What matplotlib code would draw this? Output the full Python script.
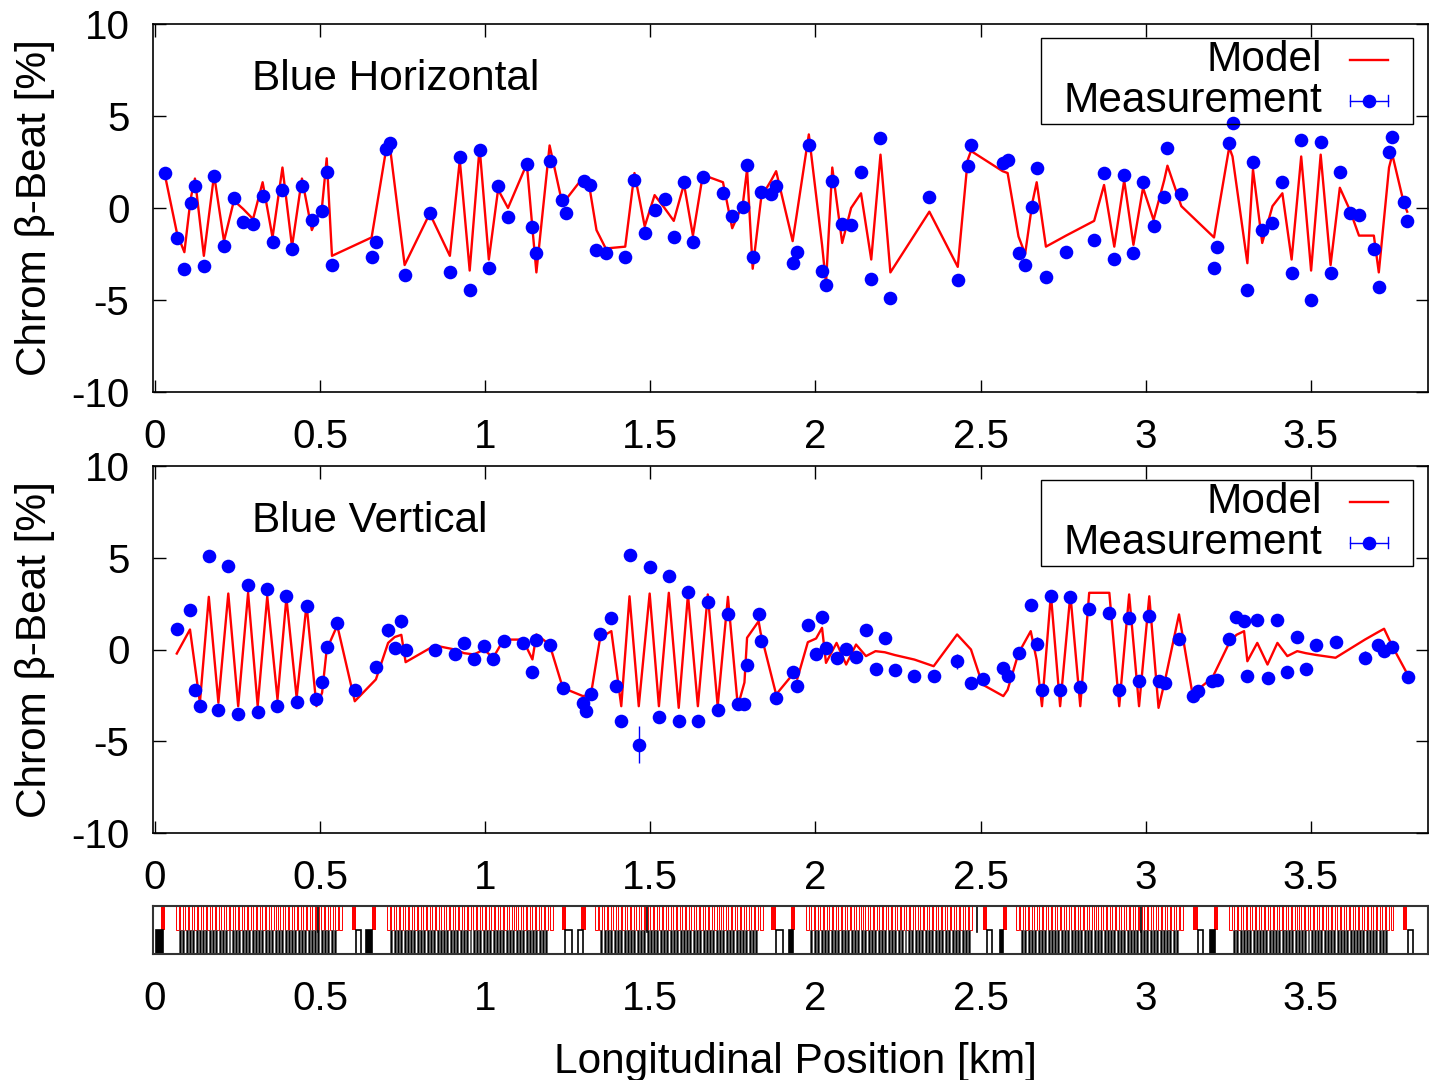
import matplotlib
matplotlib.use('Agg')
import matplotlib.pyplot as plt
from matplotlib.patches import Rectangle
import numpy as np

plt.rcParams['font.family'] = ['Liberation Sans', 'DejaVu Sans']
plt.rcParams['axes.unicode_minus'] = False

# ---------------- data ----------------
# Blue Horizontal
s_h = [0.030,0.067,0.089,0.108,0.121,0.148,0.179,0.209,0.239,0.267,
       0.297,0.326,0.356,0.386,0.415,0.445,0.475,0.506,0.520,0.536,
       0.656,0.668,0.701,0.711,0.756,0.832,0.893,0.923,0.953,0.983,
       1.011,1.039,1.069,1.126,1.143,1.155,1.195,1.234,1.244,1.298,
       1.316,1.337,1.365,1.424,1.452,1.483,1.513,1.543,1.571,1.602,
       1.629,1.659,1.720,1.748,1.780,1.793,1.810,1.836,1.866,1.881,
       1.931,1.943,1.980,2.020,2.032,2.051,2.081,2.108,2.138,2.169,
       2.197,2.227,2.345,2.431,2.461,2.471,2.567,2.582,2.615,2.635,
       2.657,2.670,2.698,2.759,2.844,2.874,2.905,2.935,2.963,2.992,
       3.024,3.056,3.066,3.108,3.207,3.217,3.253,3.263,3.308,3.325,
       3.353,3.384,3.414,3.442,3.471,3.501,3.530,3.560,3.588,3.618,
       3.646,3.691,3.706,3.737,3.747,3.782,3.792]
meas_h = [1.89,-1.65,-3.33,0.29,1.20,-3.15,1.74,-2.07,0.56,-0.74,
          -0.87,0.65,-1.86,0.98,-2.24,1.21,-0.65,-0.15,1.97,-3.10,
          -2.65,-1.86,3.19,3.55,-3.64,-0.29,-3.46,2.79,-4.46,3.15,
          -3.28,1.21,-0.47,2.39,-1.05,-2.46,2.57,0.43,-0.29,1.49,
          1.25,-2.28,-2.46,-2.65,1.52,-1.38,-0.11,0.47,-1.59,1.43,
          -1.86,1.67,0.83,-0.43,0.04,2.34,-2.65,0.89,0.76,1.20,
          -2.97,-2.38,3.42,-3.41,-4.18,1.48,-0.87,-0.94,1.94,-3.88,
          3.79,-4.91,0.61,-3.91,2.30,3.42,2.46,2.61,-2.43,-3.10,
          0.04,2.16,-3.77,-2.38,-1.74,1.92,-2.79,1.79,-2.43,1.43,
          -0.98,0.58,3.24,0.74,-3.28,-2.10,3.55,4.60,-4.46,2.52,
          -1.20,-0.80,1.40,-3.52,3.70,-5.00,3.60,-3.52,1.94,-0.26,
          -0.38,-2.24,-4.31,3.06,3.84,0.34,-0.69]
err_h = [0.2,0.2,0.2,0.3,0.2,0.2,0.2,0.2,0.2,0.2,
         0.2,0.2,0.2,0.2,0.2,0.2,0.2,0.2,0.25,0.2,
         0.2,0.2,0.25,0.2,0.2,0.2,0.2,0.2,0.2,0.2,
         0.2,0.2,0.2,0.25,0.2,0.2,0.2,0.2,0.2,0.2,
         0.2,0.2,0.2,0.2,0.2,0.2,0.2,0.2,0.2,0.2,
         0.2,0.2,0.2,0.2,0.2,0.25,0.2,0.2,0.2,0.2,
         0.2,0.2,0.2,0.2,0.2,0.2,0.2,0.2,0.2,0.2,
         0.2,0.2,0.2,0.2,0.2,0.2,0.2,0.2,0.2,0.2,
         0.2,0.2,0.2,0.2,0.2,0.2,0.2,0.2,0.2,0.2,
         0.2,0.2,0.3,0.2,0.2,0.2,0.2,0.2,0.2,0.2,
         0.2,0.2,0.2,0.2,0.2,0.2,0.2,0.2,0.2,0.2,
         0.2,0.2,0.2,0.2,0.2,0.2,0.2]
model_h = [1.8,-1.4,-2.4,0.5,1.6,-2.6,1.8,-1.8,0.4,-0.05,
           -0.6,1.4,-1.6,2.2,-2.1,1.6,-1.2,0.1,2.7,-2.6,
           -1.6,-0.3,3.3,3.4,-3.1,-0.3,-2.6,2.6,-3.4,3.3,
           -2.8,1.0,0.0,2.4,-1.1,-3.5,3.4,0.2,0.45,1.7,
           1.1,-1.2,-2.2,-2.1,1.9,-1.0,0.7,0.0,-0.7,1.3,
           -1.5,1.8,1.4,-1.1,0.2,2.1,-3.3,0.6,1.5,2.0,
           -1.8,-0.4,4.0,-2.0,-4.1,2.2,-1.9,0.0,0.8,-2.8,
           2.9,-3.5,-0.2,-3.2,2.6,3.1,2.0,1.9,-1.55,-2.5,
           0.3,1.4,-2.1,-1.5,-0.7,1.25,-2.1,1.5,-2.0,1.1,
           -0.65,1.5,2.3,0.1,-1.6,-0.5,3.3,2.8,-3.0,2.1,
           -1.9,0.1,0.8,-2.8,2.8,-3.4,2.9,-3.1,1.1,-0.1,
           -1.5,-1.5,-3.5,2.2,2.9,0.25,-0.2]

# Blue Vertical
s_v = [0.066,0.106,0.121,0.136,0.163,0.192,0.222,0.252,0.282,0.311,
       0.340,0.371,0.398,0.429,0.459,0.489,0.506,0.520,0.552,0.605,
       0.669,0.706,0.726,0.746,0.759,0.847,0.908,0.936,0.966,0.996,
       1.024,1.056,1.114,1.143,1.155,1.195,1.235,1.296,1.306,1.321,
       1.348,1.382,1.395,1.412,1.437,1.465,1.498,1.526,1.556,1.586,
       1.614,1.644,1.674,1.704,1.735,1.765,1.785,1.793,1.828,1.834,
       1.881,1.931,1.945,1.977,2.002,2.020,2.032,2.064,2.093,2.123,
       2.153,2.182,2.210,2.240,2.300,2.358,2.429,2.471,2.506,2.569,
       2.582,2.615,2.652,2.670,2.686,2.713,2.741,2.772,2.802,2.829,
       2.890,2.920,2.950,2.980,3.011,3.039,3.059,3.101,3.142,3.157,
       3.202,3.217,3.253,3.275,3.298,3.308,3.338,3.369,3.399,3.429,
       3.459,3.485,3.517,3.575,3.664,3.704,3.722,3.747,3.795]
meas_v = [1.09,2.13,-2.18,-3.09,5.08,-3.27,4.54,-3.49,3.49,-3.42,
          3.32,-3.09,2.94,-2.87,2.36,-2.69,-1.78,0.15,1.45,-2.23,
          -0.96,1.05,0.09,1.54,0.0,-0.05,-0.24,0.36,-0.54,0.18,
          -0.54,0.45,0.33,-1.24,0.54,0.22,-2.09,-2.91,-3.36,-2.40,
          0.86,1.73,-2.0,-3.91,5.14,-5.18,4.51,-3.67,4.03,-3.91,
          3.14,-3.91,2.6,-3.31,1.91,-2.96,-2.96,-0.82,1.96,0.45,
          -2.67,-1.24,-2.0,1.36,-0.27,1.76,0.09,-0.45,0.04,-0.4,
          1.05,-1.05,0.64,-1.14,-1.45,-1.45,-0.64,-1.82,-1.6,-1.0,
          -1.42,-0.18,2.45,0.31,-2.18,2.94,-2.18,2.87,-2.05,2.18,
          2.0,-2.23,1.69,-1.73,1.81,-1.73,-1.82,0.58,-2.51,-2.27,
          -1.73,-1.67,0.58,1.78,1.54,-1.42,1.63,-1.54,1.63,-1.24,
          0.69,-1.05,0.22,0.4,-0.45,0.27,-0.09,0.15,-1.49]
err_v = [0.15,0.15,0.3,0.15,0.15,0.15,0.15,0.15,0.15,0.15,
         0.15,0.15,0.15,0.15,0.15,0.15,0.15,0.15,0.15,0.15,
         0.15,0.35,0.15,0.35,0.15,0.15,0.15,0.15,0.15,0.15,
         0.15,0.15,0.15,0.15,0.15,0.15,0.15,0.15,0.15,0.15,
         0.15,0.15,0.15,0.15,0.15,1.0,0.15,0.15,0.15,0.15,
         0.15,0.15,0.15,0.15,0.15,0.15,0.15,0.15,0.15,0.15,
         0.15,0.15,0.2,0.15,0.15,0.35,0.15,0.15,0.15,0.15,
         0.15,0.15,0.15,0.15,0.15,0.15,0.4,0.15,0.15,0.15,
         0.15,0.15,0.15,0.35,0.15,0.15,0.15,0.15,0.15,0.15,
         0.15,0.15,0.15,0.15,0.15,0.15,0.15,0.15,0.15,0.15,
         0.15,0.15,0.15,0.15,0.15,0.15,0.15,0.15,0.15,0.15,
         0.15,0.15,0.15,0.15,0.35,0.3,0.15,0.15,0.15]
model_v = [-0.22,1.09,-0.9,-2.9,2.87,-2.9,3.05,-3.09,3.09,-3.09,
           2.9,-2.72,2.82,-2.63,2.45,-3.09,-2.36,0.0,1.31,-2.82,
           -1.63,0.36,0.68,0.8,-0.69,0.22,0.0,-0.2,-0.27,0.0,
           -0.45,0.54,0.54,-0.54,0.82,0.27,-2.09,-2.54,-2.5,-2.36,
           0.64,1.0,-0.77,-3.09,2.9,-3.09,3.05,-3.09,3.09,-3.18,
           3.0,-3.09,3.0,-3.09,2.87,-3.09,-1.8,0.64,1.54,0.91,
           -2.45,-1.36,-1.6,0.4,0.6,1.18,-0.73,0.36,-0.82,0.27,
           -0.36,-0.09,-0.15,-0.3,-0.55,-0.91,0.82,0.0,-1.91,-2.54,
           -2.2,-0.2,1.0,-0.58,-3.09,3.0,-3.09,3.0,-3.09,3.09,
           3.09,-3.09,3.0,-3.09,2.9,-3.18,-1.65,1.91,-2.45,-2.2,
           -1.54,-0.98,0.36,0.8,1.0,-0.64,0.36,-0.82,0.36,-0.36,
           -0.09,-0.2,-0.3,-0.45,0.54,0.95,1.13,0.18,-1.42]

# Lattice (magnet layout strip)
red_arcs = [(0.067, 0.562), (0.706, 1.200), (1.336, 1.836),
            (1.976, 2.471), (2.611, 3.110), (3.258, 3.746)]
red_per_arc = 37
black_arcs = [(0.076, 0.545), (0.716, 1.185), (1.352, 1.821),
              (1.988, 2.466), (2.626, 3.095), (3.268, 3.728)]
black_per_arc = 48
red_single = [0.024, 0.602, 0.663, 1.238, 1.298, 1.873, 1.933,
              2.513, 2.573, 3.151, 3.212, 3.786]
black_single_pos = [0.013, 0.617, 0.649, 1.252, 1.289, 1.891, 1.926,
                    2.526, 2.564, 3.166, 3.203, 3.802]
black_single_w = [0.020, 0.015, 0.018, 0.020, 0.015, 0.020, 0.012,
                  0.015, 0.010, 0.015, 0.015, 0.015]
black_single_solid = [True, False, True, False, False, False, True,
                      False, True, False, True, False]
markers = [0.493, 1.489, 2.490, 2.987]

xticks = [0, 0.5, 1, 1.5, 2, 2.5, 3, 3.5]
xticklabels = ['0', '0.5', '1', '1.5', '2', '2.5', '3', '3.5']
yticks = [-10, -5, 0, 5, 10]
yticklabels = ['-10', '-5', '0', '5', '10']

# ---------------- figure ----------------
W, H = 1429, 1080
fig = plt.figure(figsize=(W / 100, H / 100), dpi=100)


def ax_rect(l, t, r, b):
    return [l / W, 1 - b / H, (r - l) / W, (b - t) / H]


XMIN, XMAX = -0.006, 3.855
BLUE = (0, 0, 1)
RED = (1, 0, 0)
FS = 30.5


def panel(ax, s, model, meas, err, title):
    ax.plot(s, model, color=RED, lw=1.7, zorder=2)
    ax.errorbar(s, meas, yerr=err, fmt='o', color=BLUE, ms=9.8, mew=0,
                elinewidth=1.0, capsize=4, capthick=1.0, zorder=3)
    ax.set_xlim(XMIN, XMAX)
    ax.set_ylim(-10, 10)
    ax.set_xticks(xticks)
    ax.set_xticklabels(xticklabels)
    ax.set_yticks(yticks)
    ax.set_yticklabels(yticklabels)
    ax.tick_params(direction='in', length=9, width=1.0, top=True, right=True,
                   labelsize=29)
    ax.tick_params(axis='x', pad=19)
    ax.tick_params(axis='y', pad=17)
    for sp in ax.spines.values():
        sp.set_linewidth(1.2)
    ax.text(0.294, 7.0, title, fontsize=FS, ha='left', va='center')
    # legend
    t = ax.transAxes
    ax.add_patch(Rectangle((0.6965, 0.728), 0.2917, 0.234, transform=t,
                           facecolor='none', edgecolor='black', lw=1.0,
                           zorder=5))
    ax.text(0.9169, 0.902, 'Model', transform=t, ha='right', va='center',
            fontsize=FS, zorder=6)
    ax.text(0.9169, 0.791, 'Measurement', transform=t, ha='right',
            va='center', fontsize=FS, zorder=6)
    ax.plot([0.9388, 0.9686], [0.902, 0.902], color=RED, lw=1.7,
            transform=t, zorder=6)
    ax.plot([0.9388, 0.9686], [0.791, 0.791], color=BLUE, lw=1.0,
            transform=t, zorder=6)
    for xc in (0.9388, 0.9686):
        ax.plot([xc, xc], [0.776, 0.806], color=BLUE, lw=1.0,
                transform=t, zorder=6)
    ax.plot([0.9537], [0.791], 'o', color=BLUE, ms=9.8, mew=0,
            transform=t, zorder=7)


ax1 = fig.add_axes(ax_rect(153, 24, 1428, 392))
ax2 = fig.add_axes(ax_rect(153, 466, 1428, 833))
ax3 = fig.add_axes(ax_rect(153, 906, 1428, 954))

panel(ax1, s_h, model_h, meas_h, err_h, 'Blue Horizontal')
panel(ax2, s_v, model_v, meas_v, err_v, 'Blue Vertical')

# lattice strip
for a, b in red_arcs:
    pos = np.linspace(a, b, red_per_arc)
    ax3.bar(pos, 0.5, width=0.009, bottom=0.5, facecolor='white',
            edgecolor=RED, linewidth=0.7)
for a, b in black_arcs:
    pos = np.linspace(a, b, black_per_arc)
    ax3.bar(pos, 0.5, width=0.006, bottom=0.0, facecolor='black',
            edgecolor='#555555', linewidth=0.5)
ax3.bar(red_single, 0.5, width=0.013, bottom=0.5, color=RED, linewidth=0)
for x, w, solid in zip(black_single_pos, black_single_w, black_single_solid):
    ax3.bar([x], 0.5, width=w, bottom=0.0,
            facecolor='black' if solid else 'white', edgecolor='black',
            linewidth=1.2)
for m in markers:
    ax3.plot([m, m], [0.45, 1.0], color='black', lw=1.2)
ax3.set_xlim(XMIN, XMAX)
ax3.set_ylim(0, 1)
ax3.set_yticks([])
ax3.set_xticks(xticks)
ax3.set_xticklabels(xticklabels)
ax3.tick_params(axis='x', length=0, labelsize=29, pad=19)
for sp in ax3.spines.values():
    sp.set_linewidth(1.5)
    sp.set_color('#333333')

# axis labels
fig.text(0.0245, 0.808, 'Chrom β-Beat [%]', rotation=90, ha='center',
         va='center', fontsize=FS)
fig.text(0.0245, 0.399, 'Chrom β-Beat [%]', rotation=90, ha='center',
         va='center', fontsize=FS)
fig.text(0.5567, 1 - 1073 / H, 'Longitudinal Position [km]', ha='center',
         va='baseline', fontsize=FS)

fig.savefig('out.png', dpi=100)
